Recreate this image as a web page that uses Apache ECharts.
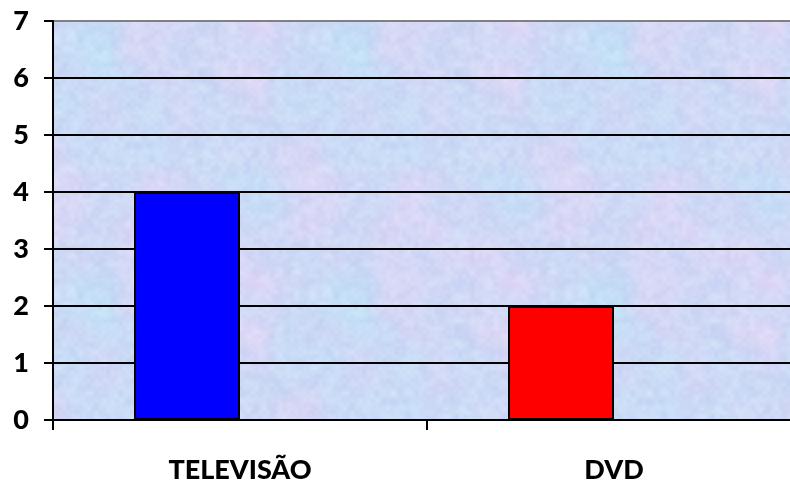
<!DOCTYPE html>
<html>
<head>
<meta charset="utf-8">
<script src="https://cdn.jsdelivr.net/npm/echarts@6/dist/echarts.min.js"></script>
<style>
  html, body { margin: 0; padding: 0; background: #fff; }
  #chart { width: 790px; height: 486px; }
</style>
</head>
<body>
<div id="chart"></div>
<script>
// Chart data
const categories = ['TELEVISÃO', 'DVD'];
const values = [4, 2];
const barColors = ['#0000FF', '#FF0000'];
const yTicks = [0, 1, 2, 3, 4, 5, 6, 7];

// Marbled pastel fill for the plot area: tileable value noise on a small canvas
function makeTexture() {
  const S = 256;
  const c = document.createElement('canvas');
  c.width = S; c.height = S;
  const g = c.getContext('2d');
  const img = g.createImageData(S, S);

  function hash(ix, iy, seed) {
    let h = (ix * 374761393 + iy * 668265263 + seed * 982451653) | 0;
    h = (h ^ (h >>> 13)) * 1274126177 | 0;
    h = h ^ (h >>> 16);
    return (h >>> 0) / 4294967295;
  }
  function smooth(t) { return t * t * (3 - 2 * t); }
  function noise(x, y, cells, seed) {
    const f = cells / S;
    const fx = x * f, fy = y * f;
    const x0 = Math.floor(fx), y0 = Math.floor(fy);
    const tx = smooth(fx - x0), ty = smooth(fy - y0);
    const w = (v) => ((v % cells) + cells) % cells;
    const a = hash(w(x0), w(y0), seed), b = hash(w(x0 + 1), w(y0), seed);
    const cc = hash(w(x0), w(y0 + 1), seed), d = hash(w(x0 + 1), w(y0 + 1), seed);
    return (a + (b - a) * tx) * (1 - ty) + (cc + (d - cc) * tx) * ty;
  }

  const pink = [226, 214, 246];
  const cyan = [194, 224, 247];
  const blue = [206, 216, 245];
  for (let y = 0; y < S; y++) {
    for (let x = 0; x < S; x++) {
      const hue = noise(x, y, 5, 1) * 0.55 + noise(x, y, 10, 2) * 0.45;
      const grain = noise(x, y, 32, 3) * 0.5 + noise(x, y, 64, 4) * 0.5;
      let col;
      if (hue < 0.5) {
        const t = hue / 0.5;
        col = cyan.map((v, k) => v + (blue[k] - v) * t);
      } else {
        const t = (hue - 0.5) / 0.5;
        col = blue.map((v, k) => v + (pink[k] - v) * t);
      }
      const shade = (grain - 0.5) * 18;
      const i = (y * S + x) * 4;
      img.data[i] = Math.max(0, Math.min(255, col[0] + shade));
      img.data[i + 1] = Math.max(0, Math.min(255, col[1] + shade));
      img.data[i + 2] = Math.max(0, Math.min(255, col[2] + shade * 0.4));
      img.data[i + 3] = 255;
    }
  }
  g.putImageData(img, 0, 0);
  return c;
}

const chart = echarts.init(document.getElementById('chart'), null, { renderer: 'canvas' });
const fontFamily = 'Lato, "Open Sans", sans-serif';

chart.setOption({
  animation: false,
  grid: {
    left: 53, top: 21, width: 748, height: 399,
    outerBoundsMode: 'none',
    containLabel: false,
    show: true,
    backgroundColor: { image: makeTexture(), repeat: 'repeat' },
    borderWidth: 0
  },
  xAxis: {
    type: 'category',
    data: categories,
    axisLine: { show: true, lineStyle: { color: '#000', width: 2 } },
    axisTick: { show: true, length: 10, alignWithLabel: false, lineStyle: { color: '#000', width: 2 } },
    axisLabel: { margin: 37, color: '#000', fontFamily, fontWeight: 900, fontSize: 27 },
    splitLine: { show: false }
  },
  yAxis: {
    type: 'value',
    min: yTicks[0],
    max: yTicks[yTicks.length - 1],
    interval: 1,
    axisLine: { show: true, lineStyle: { color: '#000', width: 2 } },
    axisTick: { show: true, length: 9, lineStyle: { color: '#000', width: 2 } },
    axisLabel: { margin: 24, color: '#000', fontFamily, fontWeight: 900, fontSize: 27 },
    splitLine: {
      show: true,
      lineStyle: {
        color: ['#000', '#000', '#000', '#000', '#000', '#000', '#000', '#808080'],
        width: 2
      }
    }
  },
  series: [
    {
      type: 'bar',
      data: values.map((v, i) => ({ value: v, itemStyle: { color: barColors[i] } })),
      barWidth: 106,
      barGap: '0%',
      itemStyle: { borderColor: '#000', borderWidth: 2 }
    },
    {
      // empty companion series keeps the bars in the left half of each slot
      type: 'bar',
      data: categories.map(() => null),
      barWidth: 106,
      barGap: '0%'
    }
  ]
});
</script>
</body>
</html>
